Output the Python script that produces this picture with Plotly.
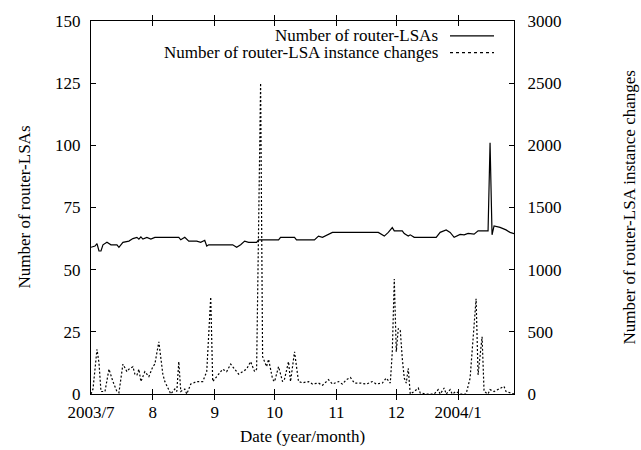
import plotly.graph_objects as go

# Number of router-LSAs (left axis)
lsa_dates = ["2003-07-01","2003-07-03","2003-07-04","2003-07-05","2003-07-06","2003-07-07","2003-07-09",
             "2003-07-11","2003-07-14","2003-07-15","2003-07-17","2003-07-20","2003-07-22","2003-07-24",
             "2003-07-25","2003-07-26","2003-07-27","2003-07-29","2003-07-31","2003-08-02","2003-08-14",
             "2003-08-15","2003-08-17","2003-08-19","2003-08-23","2003-08-25","2003-08-27","2003-08-28",
             "2003-08-29","2003-09-10","2003-09-12","2003-09-14","2003-09-16","2003-09-18","2003-09-22",
             "2003-09-23","2003-10-03","2003-10-04","2003-10-11","2003-10-12","2003-10-21","2003-10-23",
             "2003-10-25","2003-10-30","2003-11-22","2003-11-25","2003-11-27","2003-11-29","2003-11-30",
             "2003-12-04","2003-12-05","2003-12-07","2003-12-08","2003-12-10","2003-12-21","2003-12-23",
             "2003-12-26","2003-12-28","2003-12-30","2004-01-02","2004-01-04","2004-01-06","2004-01-09",
             "2004-01-11","2004-01-16","2004-01-17","2004-01-18","2004-01-19","2004-01-22","2004-01-25",
             "2004-01-27","2004-01-29"]
lsa_values = [59, 59.5, 60.5, 57.5, 57.5, 60, 61,
              60, 60, 59, 61, 61.5, 62.5, 63,
              62.3, 63.2, 62.3, 63, 62.3, 63, 63,
              62, 63, 61.5, 61.5, 61, 61.8, 59.5,
              60, 60, 59, 60, 61.5, 61, 61,
              62, 62, 63, 63, 62, 62, 63.5,
              63, 65, 65, 63.5, 65, 66.9, 65.6,
              65.6, 64.5, 63.5, 64, 63, 63, 65,
              66, 65, 63, 64.2, 64, 64.6, 64.3,
              65.6, 65.6, 101, 64, 67.6, 67, 66,
              65, 64.5]

# Number of router-LSA instance changes (right axis)
chg_dates = ["2003-07-01","2003-07-02","2003-07-04","2003-07-05","2003-07-06","2003-07-08","2003-07-10",
             "2003-07-12","2003-07-14","2003-07-15","2003-07-17","2003-07-19","2003-07-20","2003-07-22",
             "2003-07-23","2003-07-24","2003-07-25","2003-07-26","2003-07-28","2003-07-30","2003-08-01",
             "2003-08-02","2003-08-04","2003-08-06","2003-08-07","2003-08-09","2003-08-10","2003-08-12",
             "2003-08-13","2003-08-14","2003-08-15","2003-08-17","2003-08-18","2003-08-20","2003-08-23",
             "2003-08-26","2003-08-28","2003-08-30","2003-08-31","2003-09-03","2003-09-05","2003-09-07",
             "2003-09-09","2003-09-11","2003-09-13","2003-09-15","2003-09-17","2003-09-19","2003-09-21",
             "2003-09-22","2003-09-24","2003-09-25","2003-09-27","2003-09-28","2003-09-30","2003-10-01",
             "2003-10-03","2003-10-05","2003-10-06","2003-10-08","2003-10-09","2003-10-11","2003-10-13",
             "2003-10-15","2003-10-18","2003-10-20","2003-10-23","2003-10-25","2003-10-28","2003-10-30",
             "2003-11-02","2003-11-04","2003-11-06","2003-11-08","2003-11-10","2003-11-13","2003-11-16",
             "2003-11-19","2003-11-21","2003-11-24","2003-11-26","2003-11-28","2003-11-29","2003-11-30",
             "2003-12-01","2003-12-02","2003-12-03","2003-12-04","2003-12-05","2003-12-06","2003-12-07",
             "2003-12-08","2003-12-10","2003-12-12","2003-12-13","2003-12-16","2003-12-20","2003-12-22",
             "2003-12-23","2003-12-25","2003-12-26","2003-12-28","2003-12-29","2003-12-31","2004-01-02",
             "2004-01-05","2004-01-07","2004-01-10","2004-01-11","2004-01-13","2004-01-14","2004-01-16",
             "2004-01-17","2004-01-19","2004-01-22","2004-01-24","2004-01-25","2004-01-27","2004-01-29"]
chg_values = [0, 40, 360, 250, 20, 20, 200,
              100, 20, 10, 240, 180, 200, 220,
              160, 150, 200, 100, 180, 140, 220,
              240, 420, 160, 100, 40, 0, 40,
              20, 260, 20, 40, 0, 80, 100,
              100, 180, 780, 100, 160, 200, 180,
              240, 200, 160, 180, 200, 260, 180,
              200, 2500, 300, 220, 280, 120, 100,
              220, 100, 120, 260, 100, 340, 100,
              90, 100, 80, 88, 70, 115, 80,
              100, 80, 115, 133, 88, 88, 80,
              100, 80, 88, 128, 88, 340, 925,
              340, 527, 513, 287, 128, 88, 207,
              0, 20, 48, 8, 0, 0, 35,
              0, 48, 0, 35, 0, 20, 0,
              0, 128, 766, 154, 460, 20, 0,
              35, 20, 48, 61, 20, 10, 0]

tick_dates = ["2003-07-01","2003-08-01","2003-09-01","2003-10-01","2003-11-01","2003-12-01","2004-01-01"]
tick_labels = ["2003/7","8","9","10","11","12","2004/1"]

series_names = ["Number of router-LSAs", "Number of router-LSA instance changes"]

FONT = "Liberation Serif"
FS = 17

fig = go.Figure()
fig.add_trace(go.Scatter(x=lsa_dates, y=lsa_values, mode="lines", name=series_names[0],
                         line=dict(color="black", width=1.2), yaxis="y", showlegend=False))
fig.add_trace(go.Scatter(x=chg_dates, y=chg_values, mode="lines", name=series_names[1],
                         line=dict(color="black", width=1.2, dash="2px,2px"), yaxis="y2", showlegend=False))

# plot area in pixels
W, H = 641, 450
L, R, T, B = 91, 514, 16, 394
pw, ph = R - L, B - T

def px(xp):
    return (xp - L) / pw

def py(yp):
    return (B - yp) / ph

annotations = []
shapes = []
for i, (name, dash) in enumerate(zip(series_names, ["solid", "dot"])):
    yy = py(31 + i * 17)
    annotations.append(dict(x=px(440), y=yy, xref="paper", yref="paper", text=name, showarrow=False,
                            xanchor="right", yanchor="middle", font=dict(family=FONT, size=FS, color="black")))
    shapes.append(dict(type="line", xref="paper", yref="paper", x0=px(450), x1=px(494), y0=yy, y1=yy,
                       line=dict(color="black", width=1.2, dash=dash)))

annotations.append(dict(x=px(24), y=0.5, xref="paper", yref="paper", text="Number of router-LSAs",
                        textangle=-90, showarrow=False, xanchor="center", yanchor="middle",
                        font=dict(family=FONT, size=FS, color="black")))
annotations.append(dict(x=px(629), y=0.5, xref="paper", yref="paper", text="Number of router-LSA instance changes",
                        textangle=-90, showarrow=False, xanchor="center", yanchor="middle",
                        font=dict(family=FONT, size=FS, color="black")))
annotations.append(dict(x=0.5, y=py(437), xref="paper", yref="paper", text="Date (year/month)",
                        showarrow=False, xanchor="center", yanchor="middle",
                        font=dict(family=FONT, size=FS, color="black")))

fig.update_layout(
    width=W, height=H,
    margin=dict(l=L, r=W - R, t=T, b=H - B),
    paper_bgcolor="white", plot_bgcolor="white",
    font=dict(family=FONT, size=FS, color="black"),
    xaxis=dict(type="date", range=["2003-07-01", "2004-01-29"], tickvals=tick_dates, ticktext=tick_labels,
               ticks="inside", ticklen=5, tickcolor="black", showline=True, linecolor="black", linewidth=1,
               mirror="allticks", showgrid=False, zeroline=False, tickangle=0, ticklabelstandoff=3),
    yaxis=dict(range=[0, 150], dtick=25, ticks="inside", ticklen=5, tickcolor="black", showline=True,
               linecolor="black", linewidth=1, showgrid=False, zeroline=False, ticklabelstandoff=6),
    yaxis2=dict(range=[0, 3000], dtick=500, overlaying="y", side="right", ticks="inside", ticklen=5,
                tickcolor="black", showline=True, linecolor="black", linewidth=1, showgrid=False,
                zeroline=False, ticklabelstandoff=9),
    annotations=annotations,
    shapes=shapes,
    showlegend=False,
)

fig.write_html("out.html")
